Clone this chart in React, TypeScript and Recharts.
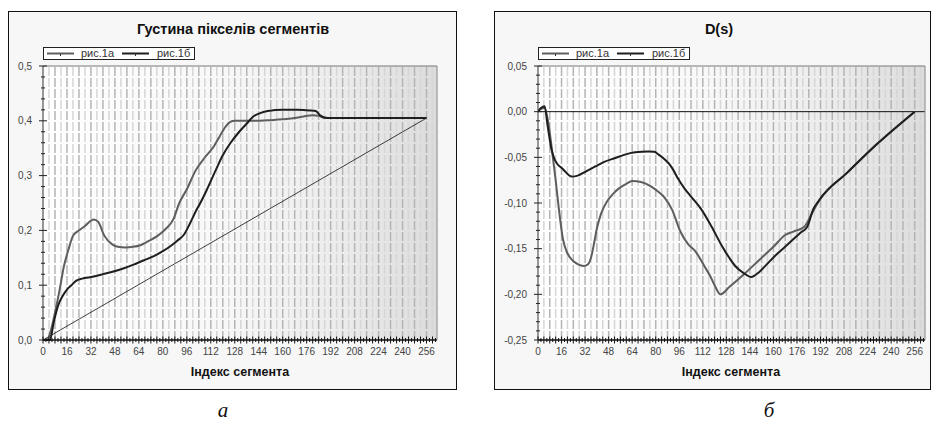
import React from 'react';
import { LineChart, Line, XAxis, YAxis, ReferenceLine } from 'recharts';

// x tick labels (segment index)
const xLabels = [0, 16, 32, 48, 64, 80, 96, 112, 128, 144, 160, 176, 192, 208, 224, 240, 256];
const densityYLabels = [0, 0.1, 0.2, 0.3, 0.4, 0.5];
const diffYLabels = [-0.25, -0.2, -0.15, -0.1, -0.05, 0, 0.05];

const seriesNames = ['рис.1а', 'рис.1б'];

// --- Густина пікселів сегментів ---
const dens1aX = [0, 2.5, 5, 8, 11, 14, 17, 20, 24, 28, 32, 34, 37, 41, 46, 50, 55, 60, 65, 70, 76, 82, 87, 91, 96, 102, 108, 114, 118, 122, 125, 128, 140, 150, 160, 168, 174, 180, 184, 188, 200, 256];
const dens1aY = [0, 0, 0.015, 0.05, 0.09, 0.135, 0.165, 0.19, 0.2, 0.208, 0.218, 0.22, 0.215, 0.19, 0.175, 0.17, 0.169, 0.17, 0.173, 0.18, 0.189, 0.203, 0.22, 0.25, 0.275, 0.31, 0.333, 0.353, 0.372, 0.39, 0.398, 0.4, 0.4, 0.401, 0.403, 0.405, 0.408, 0.41, 0.409, 0.405, 0.405, 0.405];

const dens1bX = [0, 4.7, 7, 10, 13, 16, 19, 22, 26, 30, 34, 40, 47, 54, 60, 67, 74, 80, 85, 90, 94, 98, 102, 105, 109, 116, 120, 125, 131, 136, 140, 145, 150, 160, 170, 178, 182, 185, 188, 192, 220, 256];
const dens1bY = [0, 0, 0.03, 0.062, 0.08, 0.092, 0.1, 0.108, 0.112, 0.114, 0.116, 0.12, 0.125, 0.131, 0.137, 0.145, 0.153, 0.162, 0.171, 0.182, 0.192, 0.212, 0.235, 0.25, 0.272, 0.314, 0.337, 0.359, 0.38, 0.395, 0.407, 0.414, 0.418, 0.42, 0.42, 0.419, 0.418, 0.41, 0.406, 0.405, 0.405, 0.405];

const diagX = [0, 256];
const diagY = [0, 0.405];

// --- D(s) ---
const diff1aX = [0, 2, 4.5, 7, 9.5, 12, 14, 17, 20, 23, 27, 31, 34, 36, 38, 40, 43, 47, 51, 55, 60, 64, 70, 77, 82, 86, 91, 97, 102, 107, 113, 117, 120, 124, 130, 140, 150, 160, 168, 174, 181, 186, 189, 193, 210, 230, 256];
const diff1aY = [0, 0.003, 0.004, -0.012, -0.042, -0.075, -0.104, -0.14, -0.155, -0.162, -0.167, -0.169, -0.167, -0.16, -0.145, -0.128, -0.111, -0.098, -0.09, -0.084, -0.079, -0.076, -0.077, -0.082, -0.088, -0.094, -0.107, -0.132, -0.145, -0.153, -0.169, -0.18, -0.19, -0.2, -0.192, -0.178, -0.163, -0.148, -0.135, -0.131, -0.126, -0.112, -0.103, -0.093, -0.067, -0.036, 0];

const diff1bX = [0, 2, 4.5, 6.5, 9, 11.5, 17, 23, 27, 33, 39, 45, 52, 59, 66, 75, 79, 82, 86, 89, 92, 95, 100, 104, 111, 118, 125, 130, 134, 140, 145, 150, 155, 161, 170, 178, 183, 187, 191, 210, 230, 256];
const diff1bY = [0, 0.004, 0.006, -0.015, -0.04, -0.053, -0.063, -0.071, -0.07, -0.065, -0.06, -0.055, -0.051, -0.047, -0.0445, -0.0435, -0.044, -0.047, -0.052, -0.057, -0.064, -0.073, -0.085, -0.093, -0.107, -0.126, -0.147, -0.16, -0.169, -0.177, -0.181, -0.176, -0.168, -0.158, -0.145, -0.133, -0.126, -0.107, -0.097, -0.067, -0.036, 0];

const toPoints = (xs: number[], ys: number[]) => xs.map((x, i) => ({ x, y: ys[i] }));

const X_MAX = 263;
const xMinor = Array.from({ length: 132 }, (_, i) => i * 2);
const xGrid = Array.from({ length: 65 }, (_, i) => (i + 1) * 4);
const densityMinor = Array.from({ length: 26 }, (_, i) => Math.round(i * 2) / 100);
const diffMinor = Array.from({ length: 31 }, (_, i) => Math.round(-25 + i) / 100);

const FONT = '"Liberation Sans", Arial, sans-serif';
const colors = { a: '#5e5e5e', b: '#1e1e1e' };

const has = (list: number[], v: number) => list.some(l => Math.abs(l - v) < 1e-9);

const BottomTick = (p: any) => {
  const v = p.payload.value;
  const h = v % 4 === 0 ? 3.5 : 2;
  return (
    <g>
      <line x1={p.x} x2={p.x} y1={p.y - h} y2={p.y + h} stroke="#111" strokeWidth={1} />
      {has(xLabels, v) && (
        <text x={p.x} y={p.y + 15} textAnchor="middle" fontSize={10} fill="#444" fontFamily={FONT}>{v}</text>
      )}
    </g>
  );
};

const TopTick = (p: any) => (
  <line x1={p.x} x2={p.x} y1={p.y} y2={p.y + 2.5} stroke="#555" strokeWidth={1} />
);

const makeLeftTick = (labels: number[], digits: number) => (p: any) => {
  const v = p.payload.value;
  const major = has(labels, v);
  const h = major ? 4 : 2;
  return (
    <g>
      <line x1={p.x - h} x2={p.x + h} y1={p.y} y2={p.y} stroke="#222" strokeWidth={1} />
      {major && (
        <text x={p.x - 11} y={p.y + 3.5} textAnchor="end" fontSize={10} fill="#444" fontFamily={FONT}>
          {v.toFixed(digits).replace('.', ',')}
        </text>
      )}
    </g>
  );
};

const makeRightTick = (labels: number[]) => (p: any) => {
  const major = has(labels, p.payload.value);
  return <line x1={p.x - (major ? 3 : 1)} x2={p.x + 3} y1={p.y} y2={p.y} stroke="#444" strokeWidth={1} />;
};

interface PanelProps {
  left: number;
  width: number;
  plotLeft: number;
  plotWidth: number;
  title: string;
  titleCenter: number;
  axisTitleCenter: number;
  caption: string;
  captionCenter: number;
  yDomain: [number, number];
  yMinor: number[];
  yLabels: number[];
  digits: number;
  s1a: { x: number; y: number }[];
  s1b: { x: number; y: number }[];
  diagonal?: { x: number; y: number }[];
  zeroLine?: boolean;
}

const TOP = 11;
const HEIGHT = 379;
const PLOT_TOP = 55;
const PLOT_H = 274;

const Panel = (p: PanelProps) => {
  const rightW = p.width - p.plotLeft - p.plotWidth;
  return (
    <>
      <div style={{ position: 'absolute', left: p.left, top: TOP, width: p.width, height: HEIGHT, background: '#f7f7f7' }} />
      <div
        style={{
          position: 'absolute',
          left: p.left + p.plotLeft,
          top: TOP + PLOT_TOP,
          width: p.plotWidth,
          height: PLOT_H,
          background: 'linear-gradient(to right, #ffffff 0%, #f8f8f8 45%, #ececec 75%, #dcdcdc 100%)',
        }}
      />
      <div style={{ position: 'absolute', left: p.left, top: TOP }}>
        <LineChart width={p.width} height={HEIGHT} margin={{ top: 0, right: 0, bottom: 0, left: 0 }}>
          <XAxis
            xAxisId="bottom"
            dataKey="x"
            type="number"
            domain={[0, X_MAX]}
            allowDataOverflow
            ticks={xMinor}
            interval={0}
            height={HEIGHT - PLOT_TOP - PLOT_H}
            tickSize={0}
            tickMargin={0}
            tickLine={false}
            tick={BottomTick}
            axisLine={{ stroke: '#111', strokeWidth: 1.5 }}
          />
          <XAxis
            xAxisId="top"
            orientation="top"
            type="number"
            domain={[0, X_MAX]}
            ticks={xMinor}
            interval={0}
            height={PLOT_TOP}
            tickSize={0}
            tickMargin={0}
            tickLine={false}
            tick={TopTick}
            axisLine={{ stroke: '#777', strokeWidth: 1 }}
          />
          <YAxis
            yAxisId="left"
            type="number"
            domain={p.yDomain}
            ticks={p.yMinor}
            interval={0}
            width={p.plotLeft}
            tickSize={0}
            tickMargin={0}
            tickLine={false}
            tick={makeLeftTick(p.yLabels, p.digits)}
            axisLine={{ stroke: '#333', strokeWidth: 1 }}
          />
          <YAxis
            yAxisId="right"
            orientation="right"
            type="number"
            domain={p.yDomain}
            ticks={p.yMinor}
            interval={0}
            width={rightW}
            tickSize={0}
            tickMargin={0}
            tickLine={false}
            tick={makeRightTick(p.yLabels)}
            axisLine={{ stroke: '#888', strokeWidth: 1 }}
          />
          {xGrid.map(v => (
            <ReferenceLine
              key={v}
              xAxisId="bottom"
              yAxisId="left"
              x={v}
              stroke={v % 8 === 0 ? '#b4b4b4' : '#d6d6d6'}
              strokeWidth={1.5}
              strokeDasharray="9 2"
            />
          ))}
          {p.zeroLine && <ReferenceLine xAxisId="bottom" yAxisId="left" y={0} stroke="#111" strokeWidth={1} />}
          {p.diagonal && (
            <Line
              data={p.diagonal}
              xAxisId="bottom"
              yAxisId="left"
              dataKey="y"
              type="linear"
              stroke="#111"
              strokeWidth={0.8}
              dot={false}
              isAnimationActive={false}
            />
          )}
          <Line
            data={p.s1a}
            xAxisId="bottom"
            yAxisId="left"
            dataKey="y"
            name={seriesNames[0]}
            type="monotone"
            stroke={colors.a}
            strokeWidth={2}
            dot={false}
            isAnimationActive={false}
          />
          <Line
            data={p.s1b}
            xAxisId="bottom"
            yAxisId="left"
            dataKey="y"
            name={seriesNames[1]}
            type="monotone"
            stroke={colors.b}
            strokeWidth={2}
            dot={false}
            isAnimationActive={false}
          />
        </LineChart>
      </div>
      {/* legend */}
      <div
        style={{
          position: 'absolute',
          left: p.left + p.plotLeft,
          top: 47,
          width: 152,
          height: 13,
          boxSizing: 'border-box',
          border: '1px solid #222',
          background: '#fff',
          fontFamily: FONT,
          fontSize: 11,
          color: '#333',
        }}
      >
        {seriesNames.map((name, i) => (
          <React.Fragment key={name}>
            <svg style={{ position: 'absolute', left: 3 + i * 75, top: 0 }} width={28} height={11}>
              <line x1={0} x2={27} y1={5.5} y2={5.5} stroke={i === 0 ? colors.a : colors.b} strokeWidth={2} />
              <line x1={13.5} x2={13.5} y1={5.5} y2={8} stroke="#333" strokeWidth={1} />
            </svg>
            <span style={{ position: 'absolute', left: 37 + i * 76, top: -1, lineHeight: '13px' }}>{name}</span>
          </React.Fragment>
        ))}
      </div>
      <div
        style={{
          position: 'absolute',
          left: p.titleCenter - 150,
          width: 300,
          top: 21,
          textAlign: 'center',
          fontFamily: FONT,
          fontWeight: 'bold',
          fontSize: 14.5,
          color: '#111',
        }}
      >
        {p.title}
      </div>
      <div
        style={{
          position: 'absolute',
          left: p.axisTitleCenter - 100,
          width: 200,
          top: 365,
          textAlign: 'center',
          fontFamily: FONT,
          fontWeight: 'bold',
          fontSize: 12.5,
          color: '#111',
        }}
      >
        Індекс сегмента
      </div>
      <div
        style={{
          position: 'absolute',
          left: p.left,
          top: TOP,
          width: p.width,
          height: HEIGHT,
          boxSizing: 'border-box',
          border: '1.5px solid #111',
        }}
      />
      <div
        style={{
          position: 'absolute',
          left: p.captionCenter - 20,
          width: 40,
          top: 398,
          textAlign: 'center',
          fontFamily: '"Liberation Serif", "Times New Roman", serif',
          fontStyle: 'italic',
          fontSize: 21,
          color: '#111',
        }}
      >
        {p.caption}
      </div>
    </>
  );
};

export default function App() {
  return (
    <div style={{ position: 'absolute', left: 0, top: 0, width: 932, height: 427, background: '#fff', overflow: 'hidden' }}>
      <Panel
        left={8}
        width={449}
        plotLeft={35}
        plotWidth={394}
        title="Густина пікселів сегментів"
        titleCenter={233}
        axisTitleCenter={240}
        caption="а"
        captionCenter={223}
        yDomain={[0, 0.5]}
        yMinor={densityMinor}
        yLabels={densityYLabels}
        digits={1}
        s1a={toPoints(dens1aX, dens1aY)}
        s1b={toPoints(dens1bX, dens1bY)}
        diagonal={toPoints(diagX, diagY)}
      />
      <Panel
        left={494}
        width={437}
        plotLeft={44}
        plotWidth={387}
        title="D(s)"
        titleCenter={719}
        axisTitleCenter={731}
        caption="б"
        captionCenter={769}
        yDomain={[-0.25, 0.05]}
        yMinor={diffMinor}
        yLabels={diffYLabels}
        digits={2}
        s1a={toPoints(diff1aX, diff1aY)}
        s1b={toPoints(diff1bX, diff1bY)}
        zeroLine
      />
    </div>
  );
}
